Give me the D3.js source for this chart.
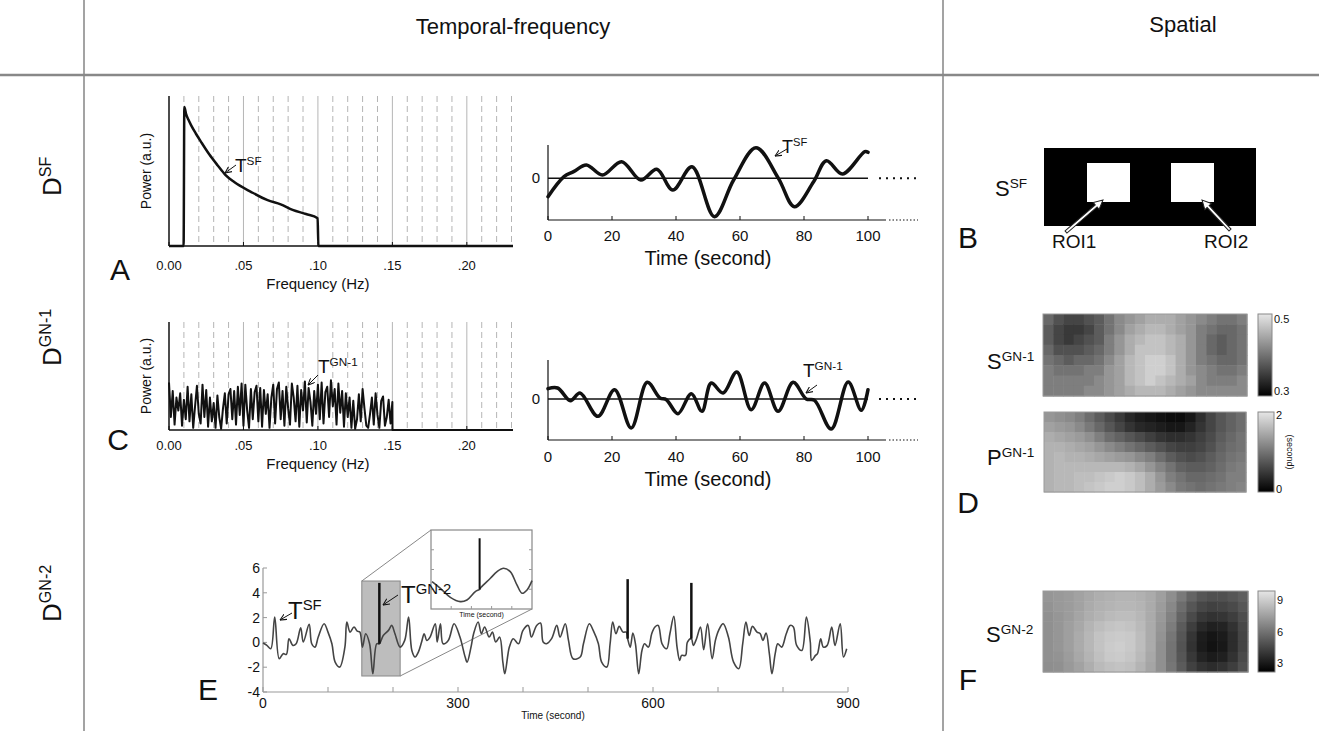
<!DOCTYPE html>
<html>
<head>
<meta charset="utf-8">
<script src="https://cdn.jsdelivr.net/npm/d3@7"></script>
<style>
body { margin: 0; background: #fff; }
text { font-family: "Liberation Sans", Arial, sans-serif; fill: #111; }
</style>
</head>
<body>
<div id="fig"></div>
<script>
// ---- data ----
var freqTicks = [0, 0.05, 0.10, 0.15, 0.20];
var freqTickLabels = ["0.00", ".05", ".10", ".15", ".20"];
var timeTicks = [0, 20, 40, 60, 80, 100];

// A: 1/f-like band-limited spectrum
var specA_f = [0, 0.0098, 0.0103, 0.0115, 0.013, 0.0148, 0.018, 0.0215, 0.027, 0.0327, 0.038, 0.0438, 0.055, 0.0662, 0.075, 0.083, 0.092, 0.0998, 0.1003, 0.231];
var specA_p = [0, 0, 1.0, 0.95, 0.91, 0.87, 0.81, 0.75, 0.66, 0.58, 0.51, 0.46, 0.39, 0.33, 0.30, 0.26, 0.23, 0.20, 0, 0];

// A: time course of T^SF
var tsA_t = [0, 5, 8, 12, 17, 23, 29, 34, 39, 45, 52, 58, 65, 72, 77, 83, 87, 92, 99, 100];
var tsA_v = [-0.55, 0.05, 0.2, 0.4, 0.1, 0.5, -0.05, 0.27, -0.35, 0.35, -1.15, -0.05, 0.92, 0, -0.85, -0.1, 0.53, 0.13, 0.8, 0.78];

// C: white-noise spectrum, 0 .. 0.15 Hz in steps of 0.00125 Hz
var specC_step = 0.00125;
var specC_p = [
  0.44,0.12,0.36,0.05,0.30,0.18,0.34,0.04,0.28,0.10,0.40,0.08,0.33,0.02,0.22,0.41,0.15,0.06,0.42,0.12,
  0.37,0.03,0.30,0.08,0.25,0.02,0.32,0.12,0.01,0.20,0.34,0.06,0.33,0.38,0.10,0.36,0.05,0.40,0.14,0.43,
  0.04,0.42,0.18,0.02,0.38,0.10,0.35,0.41,0.08,0.39,0.03,0.37,0.15,0.33,0.02,0.30,0.42,0.06,0.38,0.44,
  0.10,0.36,0.04,0.40,0.20,0.05,0.43,0.30,0.08,0.41,0.03,0.37,0.18,0.45,0.07,0.39,0.26,0.04,0.36,0.15,
  0.42,0.10,0.44,0.06,0.35,0.40,0.12,0.46,0.22,0.38,0.05,0.43,0.16,0.36,0.03,0.34,0.12,0.30,0.02,0.27,
  0.01,0.10,0.33,0.08,0.38,0.20,0.04,0.02,0.15,0.30,0.05,0.34,0.14,0.02,0.27,0.31,0.04,0.12,0.28,0.06,0.26];

// C: time course of T^GN-1
var tsC_t = [0, 3, 7, 10, 15.6, 20.8, 26, 31, 35, 37, 40.6, 44.8, 48.1, 51, 54.7, 59, 63.5, 67.7, 71.9, 76.6, 80.7, 83.3, 88.5, 93.8, 97.9, 100];
var tsC_v = [0.31, 0.33, -0.05, 0.18, -0.52, 0.28, -0.87, 0.5, 0.03, -0.02, -0.44, 0.16, -0.37, 0.48, 0.18, 0.81, -0.32, 0.48, -0.37, 0.5, 0, -0.04, -0.9, 0.51, -0.34, 0.28];

// E: 900 s signal
var sigE_t = [0,6,12,18,25,31,36,40,46,51,58,62,71,75,80,85,94,100,106,111,118,126,129,134,140,145,149,153,158,164,169,175,179,185,193,198,203,211,218,224,229,234,239,244,248,252,257,265,268,273,277,285,294,303,311,314,320,324,331,336,341,348,353,358,364,369,372,379,385,393,400,408,413,421,427,431,436,444,452,457,465,470,477,488,493,502,508,516,521,529,534,538,543,548,554,559,561,565,569,573,578,583,587,593,598,603,608,614,621,626,632,637,641,644,650,653,659,662,667,673,678,684,691,696,701,708,716,724,732,738,743,748,753,760,765,769,774,779,783,788,792,798,805,811,816,821,829,836,842,844,850,853,858,862,868,875,880,888,893,898];
var sigE_v = [-0.05,-0.24,-0.51,2.04,-1.32,-0.91,-0.97,0.30,-0.24,-0.11,1.18,0.03,1.45,-0.11,-0.38,0.43,1.51,0.83,-0.11,-1.59,-1.99,-0.38,1.64,0.83,1.24,0.91,0.83,-0.38,0.70,-0.11,-2.53,-0.11,-0.11,0.56,0.97,1.37,0.70,-0.38,0.16,2.04,-0.65,-1.18,-0.78,0.03,0.70,0.16,0.43,1.51,0.03,1.51,-0.11,0.16,1.51,0.43,-1.18,-1.59,-0.38,0.70,1.64,0.70,1.24,0.43,0.83,0.03,0.43,-1.59,-2.53,-0.38,0.30,-0.11,0.97,1.37,0.43,1.37,1.56,0.03,-0.11,0.30,1.37,0.43,1.51,0.16,-1.32,-1.18,-0.11,1.51,0.97,-0.11,-1.59,-1.99,-0.11,1.64,0.70,1.29,0.83,0.83,0.30,-0.38,0.75,-0.11,-2.53,-0.65,-0.11,-0.38,0.70,1.24,1.37,-0.11,-0.51,0.70,2.10,-0.38,-1.45,-1.05,-1.05,0.03,0.30,-0.24,0.30,1.24,-0.59,1.51,-1.32,0.16,0.97,1.51,0.43,-1.59,-2.12,-0.11,1.64,0.56,1.29,0.83,0.70,0.16,0.75,-0.91,-2.53,-0.91,-0.11,-0.38,0.70,1.37,1.24,-0.24,-0.65,2.04,0.03,-1.45,-1.05,-0.91,0.30,-0.38,-0.24,1.24,-0.24,1.51,-1.18,-0.51];
var spikeT = [179, 561, 659];
var spikeBase = [-0.11, 0.30, 0.30];
var spikeTop = [4.8, 5.1, 4.8];
var eTicksY = [6, 4, 2, 0, -2, -4];
var eTicksX = [0, 300, 600, 900];
var eWindow = [152, 211];

// E inset: zoomed window with the spike
var inset_t = [152.6, 157.5, 163.3, 169.1, 173, 177.9, 180.4, 181.2, 186.7, 190.6, 194.4, 198.3, 202.2, 205.2, 208.1, 211];
var inset_v = [0.12, -0.64, -1.67, -2.16, -1.97, -1.02, -0.76, -0.53, 0.5, 1.26, 1.64, 1.26, -0.26, -1.21, -0.83, 0.23];
var insetSpikeT = 180.4, insetSpikeTop = 5.06;

// Spatial maps (8 rows x 20 columns)
var mapS1 = [
  [.39,.37,.36,.36,.37,.38,.40,.42,.43,.44,.45,.45,.45,.44,.43,.42,.41,.40,.40,.41],
  [.38,.36,.35,.35,.36,.38,.40,.42,.44,.45,.46,.46,.45,.44,.43,.41,.40,.39,.39,.40],
  [.38,.36,.35,.36,.37,.38,.41,.43,.45,.46,.47,.47,.46,.45,.43,.41,.39,.38,.39,.40],
  [.39,.37,.37,.37,.38,.39,.41,.43,.45,.47,.47,.47,.46,.45,.43,.41,.39,.38,.39,.40],
  [.40,.39,.38,.39,.39,.40,.42,.44,.46,.47,.48,.48,.47,.45,.43,.41,.40,.39,.39,.40],
  [.41,.40,.40,.40,.41,.41,.43,.44,.46,.47,.48,.48,.47,.45,.43,.42,.41,.40,.40,.41],
  [.41,.41,.41,.41,.41,.42,.43,.44,.46,.47,.48,.47,.46,.45,.44,.42,.41,.41,.41,.42],
  [.41,.41,.41,.41,.42,.42,.43,.44,.45,.46,.46,.46,.45,.44,.43,.42,.42,.42,.42,.42]];
var mapP1 = [
  [1.30,1.25,1.20,1.10,0.95,0.80,0.65,0.50,0.35,0.25,0.20,0.15,0.10,0.10,0.20,0.40,0.60,0.75,0.85,0.95],
  [1.40,1.35,1.30,1.20,1.05,0.90,0.75,0.60,0.45,0.35,0.30,0.25,0.20,0.20,0.30,0.45,0.60,0.75,0.85,0.95],
  [1.50,1.45,1.40,1.35,1.25,1.10,0.95,0.85,0.75,0.65,0.55,0.45,0.40,0.40,0.45,0.55,0.65,0.80,0.90,1.00],
  [1.55,1.55,1.50,1.45,1.40,1.30,1.20,1.10,1.00,0.90,0.80,0.70,0.60,0.55,0.55,0.60,0.70,0.85,0.95,1.00],
  [1.55,1.60,1.55,1.55,1.50,1.45,1.40,1.35,1.30,1.20,1.10,0.95,0.80,0.70,0.65,0.70,0.80,0.90,1.00,1.05],
  [1.55,1.60,1.60,1.60,1.60,1.60,1.60,1.60,1.55,1.45,1.30,1.15,1.00,0.85,0.80,0.80,0.85,0.95,1.05,1.10],
  [1.55,1.60,1.60,1.65,1.65,1.70,1.75,1.80,1.75,1.65,1.50,1.30,1.10,1.00,0.90,0.90,0.95,1.00,1.10,1.10],
  [1.55,1.60,1.60,1.65,1.70,1.75,1.80,1.80,1.75,1.65,1.50,1.35,1.20,1.05,1.00,0.95,1.00,1.05,1.10,1.15]];
var mapS2 = [
  [7.2,7.3,7.4,7.6,7.8,8.0,8.1,8.2,8.2,8.1,7.9,7.5,6.9,6.2,5.5,5.0,4.8,4.8,5.0,5.3],
  [7.1,7.3,7.4,7.6,7.9,8.1,8.2,8.3,8.3,8.2,7.9,7.4,6.7,5.8,5.0,4.5,4.3,4.4,4.6,5.0],
  [7.0,7.2,7.4,7.7,8.0,8.2,8.4,8.5,8.5,8.3,7.9,7.3,6.5,5.5,4.6,4.0,3.8,3.9,4.2,4.7],
  [7.0,7.2,7.5,7.8,8.2,8.5,8.7,8.8,8.7,8.4,7.9,7.2,6.3,5.2,4.2,3.5,3.2,3.3,3.8,4.5],
  [7.0,7.2,7.5,7.9,8.3,8.7,8.9,9.0,8.9,8.5,7.9,7.1,6.1,5.0,3.9,3.1,2.8,3.0,3.6,4.4],
  [7.0,7.2,7.5,7.9,8.3,8.7,9.0,9.1,8.9,8.5,7.9,7.0,6.0,4.9,3.8,3.0,2.7,2.9,3.6,4.4],
  [7.0,7.1,7.4,7.8,8.2,8.6,8.9,9.0,8.8,8.4,7.8,7.0,6.0,5.0,4.0,3.3,3.0,3.2,3.8,4.6],
  [6.9,7.0,7.3,7.6,8.0,8.4,8.6,8.7,8.6,8.2,7.7,7.0,6.1,5.2,4.3,3.8,3.6,3.8,4.2,4.8]];

var W = 1319, H = 731;
var svg = d3.select("#fig").append("svg").attr("width", W).attr("height", H);
svg.append("rect").attr("width", W).attr("height", H).attr("fill", "#fff");

var defs = svg.append("defs");
defs.append("marker").attr("id", "arr")
    .attr("viewBox", "0 0 8 8").attr("refX", 7.5).attr("refY", 4)
    .attr("markerWidth", 7).attr("markerHeight", 7)
    .attr("markerUnits", "userSpaceOnUse").attr("orient", "auto")
  .append("path").attr("d", "M0,0.5 L7.5,4 L0,7.5")
    .attr("fill", "none").attr("stroke", "#111").attr("stroke-width", 1.2);

// text with a superscript
function supText(g, x, y, base, sup, fs, anchor) {
  var t = g.append("text").attr("x", x).attr("y", y)
      .attr("font-size", fs).attr("text-anchor", anchor || "start");
  t.append("tspan").text(base);
  t.append("tspan").attr("dy", -fs * 0.38).attr("font-size", fs * 0.62).text(sup);
  return t;
}
function arrow(x1, y1, x2, y2) {
  svg.append("line").attr("x1", x1).attr("y1", y1).attr("x2", x2).attr("y2", y2)
     .attr("stroke", "#111").attr("stroke-width", 1).attr("marker-end", "url(#arr)");
}

// ---- frame ----
svg.append("line").attr("x1", 84).attr("x2", 84).attr("y1", 0).attr("y2", H)
   .attr("stroke", "#666").attr("stroke-width", 1.2);
svg.append("line").attr("x1", 943).attr("x2", 943).attr("y1", 0).attr("y2", H)
   .attr("stroke", "#666").attr("stroke-width", 1.2);
svg.append("line").attr("x1", 0).attr("x2", W).attr("y1", 75).attr("y2", 75)
   .attr("stroke", "#888").attr("stroke-width", 2.5);
svg.append("text").attr("x", 513).attr("y", 34).attr("text-anchor", "middle")
   .attr("font-size", 22).text("Temporal-frequency");
svg.append("text").attr("x", 1183).attr("y", 32).attr("text-anchor", "middle")
   .attr("font-size", 22).text("Spatial");

var rowLabels = [["SF", 196], ["GN-1", 366], ["GN-2", 622]];
rowLabels.forEach(function(r) {
  var g = svg.append("g").attr("transform", "translate(61," + r[1] + ") rotate(-90)");
  supText(g, 0, 0, "D", r[0], 26, "start");
});

// panel letters
var letters = [["A", 120, 280], ["C", 118, 450], ["E", 208, 700], ["B", 968, 248], ["D", 968, 513], ["F", 968, 690]];
letters.forEach(function(l) {
  svg.append("text").attr("x", l[1]).attr("y", l[2]).attr("text-anchor", "middle")
     .attr("font-size", 30).text(l[0]);
});

// ---- spectra (A, C) ----
var fx = d3.scaleLinear().domain([0, 0.231]).range([169, 513]);

function spectrumFrame(yTop, yBase, labY) {
  var g = svg.append("g");
  d3.range(1, 24).forEach(function(i) {
    var f = i * 0.01;
    g.append("line").attr("x1", fx(f)).attr("x2", fx(f)).attr("y1", yTop).attr("y2", yBase)
     .attr("stroke", "#b5b5b5").attr("stroke-width", 1)
     .attr("stroke-dasharray", i % 5 === 0 ? null : "6,4");
  });
  g.append("line").attr("x1", fx(0)).attr("x2", fx(0)).attr("y1", yTop).attr("y2", yBase)
   .attr("stroke", "#111").attr("stroke-width", 1.5);
  g.append("line").attr("x1", fx(0)).attr("x2", fx(0.231)).attr("y1", yBase).attr("y2", yBase)
   .attr("stroke", "#111").attr("stroke-width", 1.5);
  freqTicks.forEach(function(f, i) {
    g.append("line").attr("x1", fx(f)).attr("x2", fx(f)).attr("y1", yBase).attr("y2", yBase - 4)
     .attr("stroke", "#111");
    g.append("text").attr("x", fx(f)).attr("y", labY).attr("text-anchor", "middle")
     .attr("font-size", 13).text(freqTickLabels[i]);
  });
  g.append("text").attr("x", fx(0.1)).attr("y", labY + 19).attr("text-anchor", "middle")
   .attr("font-size", 15).text("Frequency (Hz)");
  g.append("text").attr("transform", "translate(151," + ((yTop + yBase) / 2) + ") rotate(-90)")
   .attr("text-anchor", "middle").attr("font-size", 14).text("Power (a.u.)");
}

// A
spectrumFrame(96, 246, 270);
var pyA = d3.scaleLinear().domain([0, 1.08]).range([246, 96]);
svg.append("path").datum(d3.zip(specA_f, specA_p))
   .attr("fill", "none").attr("stroke", "#111").attr("stroke-width", 2.5)
   .attr("d", d3.line().x(function(d) { return fx(d[0]); }).y(function(d) { return pyA(d[1]); })
     .curve(d3.curveMonotoneX));
supText(svg, 235, 172, "T", "SF", 19);
arrow(236, 165, 225, 173);

// C
spectrumFrame(322, 430, 450);
var pyC = d3.scaleLinear().domain([0, 1]).range([430, 322]);
var specC = specC_p.map(function(p, i) { return [i * specC_step, p]; });
specC.push([0.1501, 0], [0.231, 0]);
svg.append("path").datum(specC)
   .attr("fill", "none").attr("stroke", "#111").attr("stroke-width", 2)
   .attr("stroke-linejoin", "round")
   .attr("d", d3.line().x(function(d) { return fx(d[0]); }).y(function(d) { return pyC(d[1]); }));
supText(svg, 318, 373, "T", "GN-1", 19);
arrow(318, 375, 308, 385);

// ---- time courses (A, C) ----
var tx = d3.scaleLinear().domain([0, 100]).range([548, 868]);

function timeCourse(t, v, yDom, yRange, labY) {
  var y = d3.scaleLinear().domain(yDom).range(yRange);
  var g = svg.append("g");
  var yb = yRange[0];
  g.append("line").attr("x1", 548).attr("x2", 548).attr("y1", yRange[1]).attr("y2", yb)
   .attr("stroke", "#111").attr("stroke-width", 1.2);
  g.append("line").attr("x1", 548).attr("x2", 886).attr("y1", yb).attr("y2", yb)
   .attr("stroke", "#111").attr("stroke-width", 1.2);
  g.append("line").attr("x1", 889).attr("x2", 918).attr("y1", yb).attr("y2", yb)
   .attr("stroke", "#111").attr("stroke-width", 1).attr("stroke-dasharray", "1.5,2");
  g.append("line").attr("x1", 548).attr("x2", tx(100)).attr("y1", y(0)).attr("y2", y(0))
   .attr("stroke", "#111").attr("stroke-width", 1.5);
  g.append("line").attr("x1", 879).attr("x2", 920).attr("y1", y(0)).attr("y2", y(0))
   .attr("stroke", "#111").attr("stroke-width", 2).attr("stroke-dasharray", "2,5");
  g.append("text").attr("x", 540).attr("y", y(0) + 5).attr("text-anchor", "end")
   .attr("font-size", 15).text("0");
  timeTicks.forEach(function(d) {
    g.append("line").attr("x1", tx(d)).attr("x2", tx(d)).attr("y1", yb).attr("y2", yb - 4)
     .attr("stroke", "#111");
    g.append("text").attr("x", tx(d)).attr("y", labY).attr("text-anchor", "middle")
     .attr("font-size", 15).text(d);
  });
  g.append("text").attr("x", tx(50)).attr("y", labY + 24).attr("text-anchor", "middle")
   .attr("font-size", 20).text("Time (second)");
  g.append("path").datum(d3.zip(t, v))
   .attr("fill", "none").attr("stroke", "#111").attr("stroke-width", 3.5)
   .attr("stroke-linecap", "round")
   .attr("d", d3.line().x(function(d) { return tx(d[0]); }).y(function(d) { return y(d[1]); })
     .curve(d3.curveCatmullRom.alpha(0.5)));
}
timeCourse(tsA_t, tsA_v, [-1.25, 1.0], [220, 145], 241);
supText(svg, 782, 153, "T", "SF", 18);
arrow(787, 149, 775, 156);

timeCourse(tsC_t, tsC_v, [-1.23, 1.17], [440, 360], 462);
supText(svg, 803, 377, "T", "GN-1", 19);
arrow(817, 385, 806, 393);

// ---- E: long signal ----
var ex = d3.scaleLinear().domain([0, 900]).range([263, 848]);
var ey = d3.scaleLinear().domain([-4, 6]).range([692, 568]);
var eg = svg.append("g");
eg.append("line").attr("x1", ex(0)).attr("x2", ex(0)).attr("y1", ey(6)).attr("y2", ey(-4))
  .attr("stroke", "#999").attr("stroke-width", 1.2);
eg.append("line").attr("x1", ex(0)).attr("x2", ex(900)).attr("y1", ey(-4)).attr("y2", ey(-4))
  .attr("stroke", "#999").attr("stroke-width", 1.2);
eTicksY.forEach(function(d) {
  eg.append("line").attr("x1", ex(0)).attr("x2", ex(0) + 4).attr("y1", ey(d)).attr("y2", ey(d))
    .attr("stroke", "#999");
  eg.append("text").attr("x", ex(0) - 3).attr("y", ey(d) + 5).attr("text-anchor", "end")
    .attr("font-size", 14).text(d);
});
d3.range(0, 901, 100).forEach(function(d) {
  eg.append("line").attr("x1", ex(d)).attr("x2", ex(d)).attr("y1", ey(-4)).attr("y2", ey(-4) - 5)
    .attr("stroke", "#999");
});
eTicksX.forEach(function(d) {
  eg.append("text").attr("x", ex(d)).attr("y", 708).attr("text-anchor", "middle")
    .attr("font-size", 14).text(d);
});
eg.append("text").attr("x", 553).attr("y", 719).attr("text-anchor", "middle")
  .attr("font-size", 10).text("Time (second)");

// grey window and zoom lines
eg.append("rect").attr("x", ex(eWindow[0])).attr("y", 581)
  .attr("width", ex(eWindow[1]) - ex(eWindow[0])).attr("height", 95)
  .attr("fill", "#bdbdbd").attr("stroke", "#888");
var inX0 = 431, inX1 = 532, inY0 = 530, inY1 = 609;
eg.append("line").attr("x1", ex(eWindow[0])).attr("y1", 581).attr("x2", inX0).attr("y2", inY0)
  .attr("stroke", "#888");
eg.append("line").attr("x1", ex(eWindow[1])).attr("y1", 676).attr("x2", inX1).attr("y2", inY1)
  .attr("stroke", "#888");

var sigLine = d3.line().x(function(d) { return ex(d[0]); }).y(function(d) { return ey(d[1]); })
  .curve(d3.curveCatmullRom.alpha(0.5));
eg.append("path").datum(d3.zip(sigE_t, sigE_v))
  .attr("fill", "none").attr("stroke", "#444").attr("stroke-width", 1.6).attr("d", sigLine);
spikeT.forEach(function(t, i) {
  eg.append("line").attr("x1", ex(t)).attr("x2", ex(t)).attr("y1", ey(spikeBase[i])).attr("y2", ey(spikeTop[i]))
    .attr("stroke", "#111").attr("stroke-width", 2.5);
});

// inset
var ix = d3.scaleLinear().domain(eWindow).range([inX0, inX1]);
var iy = d3.scaleLinear().domain([-3, 6]).range([inY1, inY0]);
eg.append("rect").attr("x", inX0).attr("y", inY0).attr("width", inX1 - inX0).attr("height", inY1 - inY0)
  .attr("fill", "#fff").attr("stroke", "#888").attr("stroke-width", 1.2);
[0.25, 0.5, 0.75].forEach(function(f) {
  var yy = inY0 + f * (inY1 - inY0);
  eg.append("line").attr("x1", inX0).attr("x2", inX0 + 3).attr("y1", yy).attr("y2", yy).attr("stroke", "#999");
  eg.append("line").attr("x1", inX1).attr("x2", inX1 - 3).attr("y1", yy).attr("y2", yy).attr("stroke", "#999");
});
[0.2, 0.4, 0.6, 0.8].forEach(function(f) {
  var xx = inX0 + f * (inX1 - inX0);
  eg.append("line").attr("x1", xx).attr("x2", xx).attr("y1", inY1).attr("y2", inY1 - 3).attr("stroke", "#999");
});
eg.append("path").datum(d3.zip(inset_t, inset_v))
  .attr("fill", "none").attr("stroke", "#444").attr("stroke-width", 1.6)
  .attr("d", d3.line().x(function(d) { return ix(d[0]); }).y(function(d) { return iy(d[1]); })
    .curve(d3.curveCatmullRom.alpha(0.5)));
eg.append("line").attr("x1", ix(insetSpikeT)).attr("x2", ix(insetSpikeT))
  .attr("y1", iy(-0.76)).attr("y2", iy(insetSpikeTop)).attr("stroke", "#111").attr("stroke-width", 2);
eg.append("text").attr("x", (inX0 + inX1) / 2).attr("y", 617).attr("text-anchor", "middle")
  .attr("font-size", 7).text("Time (second)");

supText(svg, 288, 619, "T", "SF", 24);
arrow(292, 613, 280, 620);
supText(svg, 401, 603, "T", "GN-2", 24);
arrow(398, 595, 383, 605);

// ---- spatial panels ----
// B: binary mask with two ROIs
svg.append("rect").attr("x", 1044).attr("y", 148).attr("width", 212).attr("height", 78).attr("fill", "#000");
var rois = [[1087, 163], [1171, 163]];
rois.forEach(function(r) {
  svg.append("rect").attr("x", r[0]).attr("y", r[1]).attr("width", 43).attr("height", 39).attr("fill", "#fff");
});
supText(svg, 995, 196, "S", "SF", 22);
svg.append("text").attr("x", 1052).attr("y", 248).attr("font-size", 19).text("ROI1");
svg.append("text").attr("x", 1204).attr("y", 248).attr("font-size", 19).text("ROI2");

function hollowArrow(x1, y1, x2, y2) {
  var L = Math.hypot(x2 - x1, y2 - y1), a = Math.atan2(y2 - y1, x2 - x1) * 180 / Math.PI;
  var pts = [[0, -1.4], [L - 9, -1.4], [L - 9, -4.5], [L, 0], [L - 9, 4.5], [L - 9, 1.4], [0, 1.4]];
  svg.append("polygon").attr("points", pts.map(function(p) { return p.join(","); }).join(" "))
     .attr("transform", "translate(" + x1 + "," + y1 + ") rotate(" + a + ")")
     .attr("fill", "#fff").attr("stroke", "#222").attr("stroke-width", 1);
}
hollowArrow(1066, 232, 1103, 200);
hollowArrow(1230, 230, 1202, 200);

// heat maps
function heatmap(data, x0, y0, w, h, dom, cb, ticks) {
  var cols = d3.range(data[0].length), rows = d3.range(data.length);
  var cx = d3.scaleBand().domain(cols).range([x0, x0 + w]);
  var cy = d3.scaleBand().domain(rows).range([y0, y0 + h]);
  var col = d3.scaleLinear().domain(dom).range(["#000", "#e6e6e6"]).clamp(true);
  var g = svg.append("g");
  rows.forEach(function(r) {
    cols.forEach(function(c) {
      g.append("rect").attr("x", cx(c)).attr("y", cy(r))
       .attr("width", cx.bandwidth() + 0.5).attr("height", cy.bandwidth() + 0.5)
       .attr("fill", col(data[r][c]));
    });
  });
  g.append("rect").attr("x", x0).attr("y", y0).attr("width", w).attr("height", h)
   .attr("fill", "none").attr("stroke", "#999").attr("stroke-width", 1);
  // colour bar
  var id = "cb" + Math.round(y0);
  var lg = defs.append("linearGradient").attr("id", id).attr("x1", 0).attr("x2", 0).attr("y1", 1).attr("y2", 0);
  lg.append("stop").attr("offset", "0%").attr("stop-color", col(dom[0]));
  lg.append("stop").attr("offset", "100%").attr("stop-color", col(dom[1]));
  g.append("rect").attr("x", cb[0]).attr("y", y0).attr("width", cb[1]).attr("height", h)
   .attr("fill", "url(#" + id + ")").attr("stroke", "#888");
  var cs = d3.scaleLinear().domain(dom).range([y0 + h, y0]);
  ticks.forEach(function(t) {
    g.append("text").attr("x", cb[0] + cb[1] + 2).attr("y", cs(t[0]) + 4)
     .attr("font-size", 11).text(t[1]);
  });
}
heatmap(mapS1, 1043, 314, 204, 82, [0.3, 0.5], [1258, 14], [[0.488, "0.5"], [0.312, "0.3"]]);
supText(svg, 987, 369, "S", "GN-1", 22);
heatmap(mapP1, 1044, 412, 202, 80, [0, 2], [1258, 16], [[1.92, "2"], [0.07, "0"]]);
supText(svg, 987, 465, "P", "GN-1", 22);
svg.append("text").attr("transform", "translate(1287,452) rotate(90)").attr("text-anchor", "middle")
   .attr("font-size", 9).text("(second)");
heatmap(mapS2, 1043, 591, 205, 81, [2.1, 9.9], [1258, 17], [[9, "9"], [6, "6"], [3, "3"]]);
supText(svg, 986, 642, "S", "GN-2", 22);
</script>
</body>
</html>
